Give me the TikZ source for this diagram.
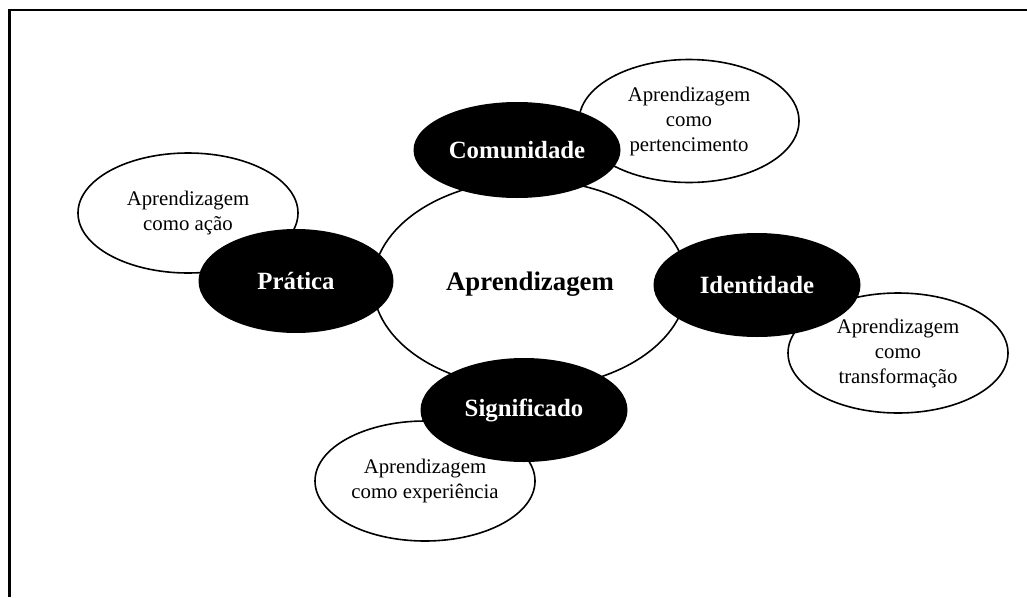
\documentclass[tikz,border=0pt]{standalone}
\usepackage{fontspec}
\setmainfont{Liberation Serif}
\usetikzlibrary{shapes.geometric, positioning, backgrounds}
\tikzset{
on grid, % node distances are measured between centres
centro/.style={ellipse, draw, line width=1.6pt, fill=white, inner sep=0pt, minimum width=314pt, minimum height=208pt, font=\fontsize{26.8}{30}\selectfont\bfseries}, % the central ellipse
pilar/.style={ellipse, fill=black, text=white, inner sep=0pt, minimum width=207pt, minimum height=104pt, font=\fontsize{24.8}{28}\selectfont\bfseries}, % black ellipses
ideia/.style={ellipse, draw, line width=1.6pt, fill=white, inner sep=0pt, minimum width=220pt, minimum height=120pt, align=center, font=\fontsize{20.8}{25}\selectfont}, % white satellite ellipses
moldura/.style={line width=2.8pt},
}

\begin{document}
\begin{tikzpicture}[x=1pt, y=-1pt]
    \useasboundingbox (0,0) rectangle (1027,597);
    \draw[moldura] (1027,10) -- (9.5,10) -- (9.5,597);

    \node[centro] (aprend) at (530,284) {Aprendizagem};
    \node[pilar, above left=3pt and 234pt of aprend, minimum width=195pt] (pratica) {Prática};
    \node[pilar, above left=134pt and 13pt of aprend, minimum height=96pt] (comunidade) {Comunidade};
    \node[pilar, below right=1pt and 227pt of aprend] (identidade) {Identidade};
    \node[pilar, below left=126pt and 6pt of aprend] (significado) {Significado};

    \begin{scope}[on background layer]
    \node[ideia, above left=68pt and 108pt of pratica] (acao) {Aprendizagem\\como ação};
    \node[ideia, above right=29pt and 172pt of comunidade, minimum height=123pt] (pertenc) {Aprendizagem\\como\\pertencimento};
    \node[ideia, below right=68pt and 141pt of identidade] (transf) {Aprendizagem\\como\\transformação};
    \node[ideia, below left=71pt and 99pt of significado] (exper) {Aprendizagem\\como experiência};
    \end{scope}
  \end{tikzpicture}
\end{document}
